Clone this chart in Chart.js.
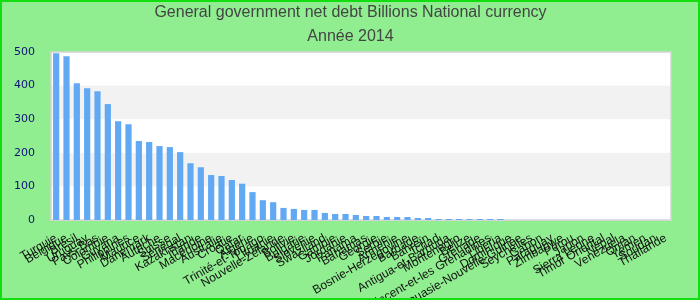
<!DOCTYPE html>
<html>
<head>
<meta charset="utf-8">
<script src="https://cdn.jsdelivr.net/npm/chart.js@4/dist/chart.umd.min.js"></script>
<style>
html,body{margin:0;padding:0;background:#90EE90;}
#wrap{width:700px;height:300px;position:relative;}
</style>
</head>
<body>
<div id="wrap"><canvas id="c" width="700" height="300"></canvas></div>
<script>
const titleLines = ["General government net debt Billions National currency", "Année 2014"];
const categories = ["Turquie","Belgique","Brésil","Uruguay","Pays-Bas","Colombie","Guyana","Philippines","Maurice","Danemark",
"Autriche","Suisse","Sénégal","Kazakhstan","Irlande","Macédoine","Australie","Croatie","Qatar","Algérie",
"Trinité-et-Tobago","Lituanie","Nouvelle-Zélande","Bolivie","Bulgarie","Slovénie","Swaziland","Gambie","Jordanie","Panama",
"Bahamas","Géorgie","Serbie","Arménie","Bosnie-Herzégovine","Barbade","Bahreïn","Tchad","Antigua-et-Barbuda","Montenegro",
"Belize","Grenade","Saint-Vincent-et-les Grenadines","Libéria","Dominique","Papouasie-Nouvelle-Guinée","Seychelles","Gabon","Paraguay","Zimbabwe",
"Pérou","Japon","Sierra Leone","Timor Oriental","Népal","Venezuela","Oman","Yémen","Soudan","Thaïlande"];
const debtValues = [496,487,407,392,383,345,294,285,235,232,
220,217,202,169,157,134,131,119,108,83,
59,53,36,33,30,30,21,18,18,15,
12,12,9,9,9,6,6,3,3,3,
3,3,3,3,null,null,null,null,null,null,
null,null,null,null,null,null,null,null,null,null];
const yTicks = [0,100,200,300,400,500];

const bgPlugin = {
  id:'bg',
  beforeDraw(chart){
    const {ctx,width,height} = chart;
    ctx.save();
    ctx.fillStyle='#90EE90';
    ctx.fillRect(0,0,width,height);
    ctx.restore();
  },
  beforeDatasetsDraw(chart){
    const {ctx,chartArea:a,scales:{y}} = chart;
    ctx.save();
    ctx.fillStyle='#ffffff';
    ctx.fillRect(a.left,a.top,a.right-a.left,a.bottom-a.top);
    ctx.fillStyle='#f2f2f2';
    for (let i=0;i<yTicks.length-1;i++){
      if (i%2===1){
        const t=y.getPixelForValue(yTicks[i+1]), b=y.getPixelForValue(yTicks[i]);
        ctx.fillRect(a.left,t,a.right-a.left,b-t);
      }
    }
    ctx.strokeStyle='#d4d4d4';
    ctx.lineWidth=1.5;
    ctx.strokeRect(a.left,a.top,a.right-a.left,a.bottom-a.top);
    ctx.restore();
  },
  afterDraw(chart){
    const {ctx,width,height}=chart;
    ctx.save();
    ctx.strokeStyle='#11dd11';
    ctx.lineWidth=2;
    ctx.strokeRect(1,1,width-2,height-2);
    ctx.restore();
  }
};

new Chart(document.getElementById('c'),{
  type:'bar',
  data:{labels:categories,datasets:[{data:debtValues,backgroundColor:'#62a9f3',borderWidth:0,categoryPercentage:1,barPercentage:0.6}]},
  options:{
    responsive:false,animation:false,
    layout:{padding:{left:1,right:0,top:0,bottom:0}},
    plugins:{
      legend:{display:false},tooltip:{enabled:false},
      title:{display:true,text:titleLines,color:'#444444',font:{family:'Liberation Sans',size:16,weight:'normal',lineHeight:1.5},padding:{top:1,bottom:3}}
    },
    scales:{
      x:{
        grid:{display:false},border:{display:true,color:'#d4d4d4',width:2},
        ticks:{autoSkip:false,minRotation:30,maxRotation:30,color:'#111',padding:3,font:{family:'Liberation Sans',size:12}},
        afterFit(s){s.height=80;}
      },
      y:{
        min:0,max:500,
        afterBuildTicks(s){s.ticks=yTicks.map(v=>({value:v}));},
        grid:{display:false},border:{display:false},
        ticks:{color:'#10107a',padding:8,font:{family:'DejaVu Sans',size:11}},
        afterFit(s){s.width=50;}
      },
      y2:{
        position:'right',min:0,max:500,
        grid:{display:false},border:{display:false},
        ticks:{display:false},
        afterFit(s){s.width=29;}
      }
    }
  },
  plugins:[bgPlugin]
});
</script>
</body>
</html>
